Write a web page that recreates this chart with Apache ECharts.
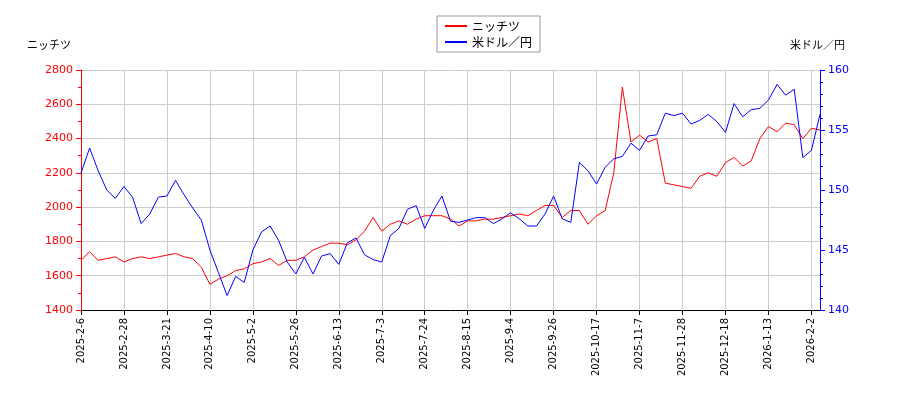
<!DOCTYPE html>
<html>
<head>
<meta charset="utf-8">
<script src="https://cdn.jsdelivr.net/npm/echarts@6/dist/echarts.min.js"></script>
<style>html,body{margin:0;background:#fff}#chart{width:900px;height:400px}</style>
</head>
<body>
<div id="chart"></div>
<script>
// tick labels, one every 5 sampled points
const tickLabels = ["2025-2-6","2025-2-28","2025-3-21","2025-4-10","2025-5-2","2025-5-26","2025-6-13","2025-7-3","2025-7-24","2025-8-15","2025-9-4","2025-9-26","2025-10-17","2025-11-7","2025-11-28","2025-12-18","2026-1-13","2026-2-2"]

const nichitsu = [1690,1740,1690,1700,1710,1680,1700,1710,1700,1710,
  1720,1730,1710,1700,1650,1550,1580,1600,1630,1640,
  1670,1680,1700,1660,1690,1690,1710,1750,1770,1790,
  1790,1780,1810,1860,1940,1860,1900,1920,1900,1930,
  1950,1950,1950,1930,1890,1920,1920,1930,1930,1940,
  1950,1960,1950,1980,2010,2010,1940,1980,1980,1900,
  1950,1980,2200,2700,2380,2420,2380,2400,2140,2130,
  2120,2110,2180,2200,2180,2260,2290,2240,2270,2400,
  2470,2440,2490,2480,2400,2460,2450]

const usdjpy = [151.4,153.5,151.6,150.0,149.3,150.3,149.4,147.2,148.0,149.4,
  149.5,150.8,149.6,148.5,147.5,145.0,143.1,141.2,142.8,142.3,
  145.0,146.5,147.0,145.8,144.0,143.0,144.4,143.0,144.5,144.7,
  143.8,145.6,146.0,144.6,144.2,144.0,146.2,146.8,148.4,148.7,
  146.8,148.3,149.5,147.4,147.3,147.5,147.7,147.7,147.2,147.6,
  148.1,147.6,147.0,147.0,148.0,149.5,147.6,147.3,152.3,151.6,
  150.5,151.9,152.6,152.8,153.9,153.3,154.5,154.6,156.4,156.2,
  156.4,155.5,155.8,156.3,155.7,154.8,157.2,156.1,156.7,156.8,
  157.5,158.8,157.9,158.4,152.7,153.3,156.3]

const categories = nichitsu.map((_, i) => i % 5 === 0 ? (tickLabels[i / 5] || "") : "")

const chart = echarts.init(document.getElementById("chart"))
const font = "'Noto Sans CJK JP', 'DejaVu Sans', sans-serif"
chart.setOption({
  animation: false,
  textStyle: { fontFamily: font },
  legend: {
    top: 16, left: 437, orient: "vertical",
    itemWidth: 22, itemHeight: 2, itemGap: 4,
    borderColor: "#999", borderWidth: 1, borderRadius: 0, padding: [4, 8],
    textStyle: { fontSize: 12, color: "#000" },
    data: [{ name: "ニッチツ", icon: "rect" }, { name: "米ドル／円", icon: "rect" }],
  },
  grid: { left: 81, right: 80, top: 70, bottom: 90 },
  xAxis: {
    type: "category", data: categories, boundaryGap: false,
    axisLine: { lineStyle: { color: "#000" } },
    axisTick: { interval: 4, lineStyle: { color: "#000" } },
    axisLabel: { interval: 4, rotate: 90, fontSize: 10, color: "#000", fontFamily: "DejaVu Sans" },
    splitLine: { show: true, interval: 4, lineStyle: { color: "#ccc" } },
  },
  yAxis: [
    {
      type: "value", min: 1400, max: 2800, interval: 200,
      name: "ニッチツ", nameGap: 20, nameTextStyle: { color: "#000", fontSize: 11, align: "right", padding: [0, 10, 0, 0] },
      axisLine: { show: true, lineStyle: { color: "red" } },
      axisTick: { show: true, lineStyle: { color: "red" } },
      minorTick: { show: true, splitNumber: 2, lineStyle: { color: "red" } },
      axisLabel: { color: "red", fontSize: 11, fontFamily: "DejaVu Sans", formatter: v => String(v) },
      splitLine: { lineStyle: { color: "#ccc" } },
    },
    {
      type: "value", min: 140, max: 160, interval: 5,
      name: "米ドル／円", nameGap: 20, nameTextStyle: { color: "#000", fontSize: 11, align: "left", padding: [0, 0, 0, -30] },
      axisLine: { show: true, lineStyle: { color: "blue" } },
      axisTick: { show: true, lineStyle: { color: "blue" } },
      minorTick: { show: true, splitNumber: 5, lineStyle: { color: "blue" } },
      axisLabel: { color: "blue", fontSize: 11, fontFamily: "DejaVu Sans" },
      splitLine: { show: false },
    },
  ],
  series: [
    { name: "ニッチツ", type: "line", data: nichitsu, yAxisIndex: 0, symbol: "none", color: "red", lineStyle: { width: 1 } },
    { name: "米ドル／円", type: "line", data: usdjpy, yAxisIndex: 1, symbol: "none", color: "blue", lineStyle: { width: 1 } },
  ],
})
</script>
</body>
</html>
